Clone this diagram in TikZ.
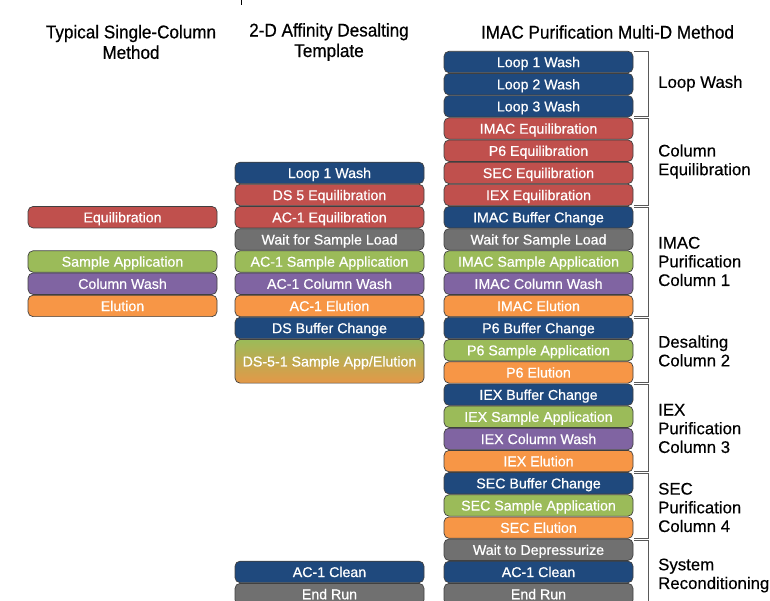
\documentclass[tikz,border=0pt]{standalone}
\usepackage{fontspec}
\setmainfont{Liberation Sans}
\newfontfamily\boxfont[FakeBold=0.6]{Liberation Sans}
\newfontfamily\hdrfont[FakeBold=0.5,FakeStretch=0.93]{Liberation Sans}
\newfontfamily\lblfont[FakeBold=0.35]{Liberation Sans}
\definecolor{stepblue}{RGB}{31,73,125}
\definecolor{stepred}{RGB}{192,80,77}
\definecolor{stepgray}{RGB}{112,112,112}
\definecolor{stepgreen}{RGB}{155,187,89}
\definecolor{steppurple}{RGB}{128,100,162}
\definecolor{steporange}{RGB}{247,150,70}
\definecolor{stepmix}{RGB}{228,152,72}
\begin{document}
\begin{tikzpicture}[x=1pt,y=-1pt,
  stepbox/.style={draw=black!75, line width=0.7pt, rounded corners=5pt,
    minimum width=189pt, minimum height=21.4pt, inner sep=0pt, text=white,
    text height=12.3pt, text depth=2pt,
    font=\boxfont\fontsize{14.2}{15.5}\selectfont},
  bl/.style={stepbox, fill=stepblue},
  rd/.style={stepbox, fill=stepred},
  gy/.style={stepbox, fill=stepgray},
  gn/.style={stepbox, fill=stepgreen},
  pu/.style={stepbox, fill=steppurple},
  og/.style={stepbox, fill=steporange},
  bracket/.style={draw=black!65, line width=0.9pt},
  lbl/.style={anchor=west, align=left, inner sep=0pt,
    font=\lblfont\fontsize{16.8}{18.7}\selectfont},
  hdr/.style={align=center, inner sep=0pt,
    font=\hdrfont\fontsize{18.4}{20.5}\selectfont}
]
\useasboundingbox (0,0) rectangle (770,600);

% tiny cropped mark at top
\draw[line width=0.9pt] (241,0) -- (241,4.5);

% headers
\node[hdr] (h1) at (131,42) {Typical Single-Column\\Method};
\node[hdr] (h2) at (329,42) {2-D Affinity Desalting\\Template};
\node[hdr] (h3) at (607.5,32) {IMAC Purification Multi-D Method};

% column 1
\node[rd] (a1) at (122.5,217.2) {Equilibration};
\node[gn] (a2) at (122.5,261.5) {Sample Application};
\node[pu] (a3) at (122.5,283.7) {Column Wash};
\node[og] (a4) at (122.5,305.9) {Elution};

% column 2
\node[bl] (b1) at (329.5,172.9) {Loop 1 Wash};
\node[rd] (b2) at (329.5,195.0) {DS 5 Equilibration};
\node[rd] (b3) at (329.5,217.2) {AC-1 Equilibration};
\node[gy] (b4) at (329.5,239.4) {Wait for Sample Load};
\node[gn] (b5) at (329.5,261.5) {AC-1 Sample Application};
\node[pu] (b6) at (329.5,283.7) {AC-1 Column Wash};
\node[og] (b7) at (329.5,305.9) {AC-1 Elution};
\node[bl] (b8) at (329.5,328.0) {DS Buffer Change};
\node[stepbox, minimum height=43.6pt, top color=stepgreen, bottom color=stepmix] (b9) at (329.5,361.3) {DS-5-1 Sample App/Elution};
\node[bl] (b10) at (329.5,571.9) {AC-1 Clean};
\node[gy] (b11) at (329.5,594.1) {End Run};

% column 3
\node[bl] (c0) at (538.5,62.0) {Loop 1 Wash};
\node[bl] (c1) at (538.5,84.2) {Loop 2 Wash};
\node[bl] (c2) at (538.5,106.3) {Loop 3 Wash};
\node[rd] (c3) at (538.5,128.5) {IMAC Equilibration};
\node[rd] (c4) at (538.5,150.7) {P6 Equilibration};
\node[rd] (c5) at (538.5,172.9) {SEC Equilibration};
\node[rd] (c6) at (538.5,195.0) {IEX Equilibration};
\node[bl] (c7) at (538.5,217.2) {IMAC Buffer Change};
\node[gy] (c8) at (538.5,239.4) {Wait for Sample Load};
\node[gn] (c9) at (538.5,261.5) {IMAC Sample Application};
\node[pu] (c10) at (538.5,283.7) {IMAC Column Wash};
\node[og] (c11) at (538.5,305.9) {IMAC Elution};
\node[bl] (c12) at (538.5,328.0) {P6 Buffer Change};
\node[gn] (c13) at (538.5,350.2) {P6 Sample Application};
\node[og] (c14) at (538.5,372.4) {P6 Elution};
\node[bl] (c15) at (538.5,394.6) {IEX Buffer Change};
\node[gn] (c16) at (538.5,416.7) {IEX Sample Application};
\node[pu] (c17) at (538.5,438.9) {IEX Column Wash};
\node[og] (c18) at (538.5,461.1) {IEX Elution};
\node[bl] (c19) at (538.5,483.2) {SEC Buffer Change};
\node[gn] (c20) at (538.5,505.4) {SEC Sample Application};
\node[og] (c21) at (538.5,527.6) {SEC Elution};
\node[gy] (c22) at (538.5,549.7) {Wait to Depressurize};
\node[bl] (c23) at (538.5,571.9) {AC-1 Clean};
\node[gy] (c24) at (538.5,594.1) {End Run};

% brackets
\draw[bracket] (634,51.5) -- (648,51.5) -- (648,116.5) -- (634,116.5);
\draw[bracket] (634,118.5) -- (648,118.5) -- (648,205.5) -- (634,205.5);
\draw[bracket] (634,207.5) -- (648,207.5) -- (648,316.5) -- (634,316.5);
\draw[bracket] (634,318.5) -- (648,318.5) -- (648,382.5) -- (634,382.5);
\draw[bracket] (634,384.5) -- (648,384.5) -- (648,471.5) -- (634,471.5);
\draw[bracket] (634,473.5) -- (648,473.5) -- (648,538) -- (634,538);
\draw[bracket] (634,540) -- (648,540) -- (648,610);

% bracket labels
\node[lbl] (l1) at (658,83.5) {Loop Wash};
\node[lbl] (l2) at (658,161.5) {Column\\Equilibration};
\node[lbl] (l3) at (658,261.5) {IMAC\\Purification\\Column 1};
\node[lbl] (l4) at (658,351) {Desalting\\Column 2};
\node[lbl] (l5) at (658,428.5) {IEX\\Purification\\Column 3};
\node[lbl] (l6) at (658,507.5) {SEC\\Purification\\Column 4};
\node[lbl] (l7) at (658,575.5) {System\\Reconditioning};
\end{tikzpicture}
\end{document}
